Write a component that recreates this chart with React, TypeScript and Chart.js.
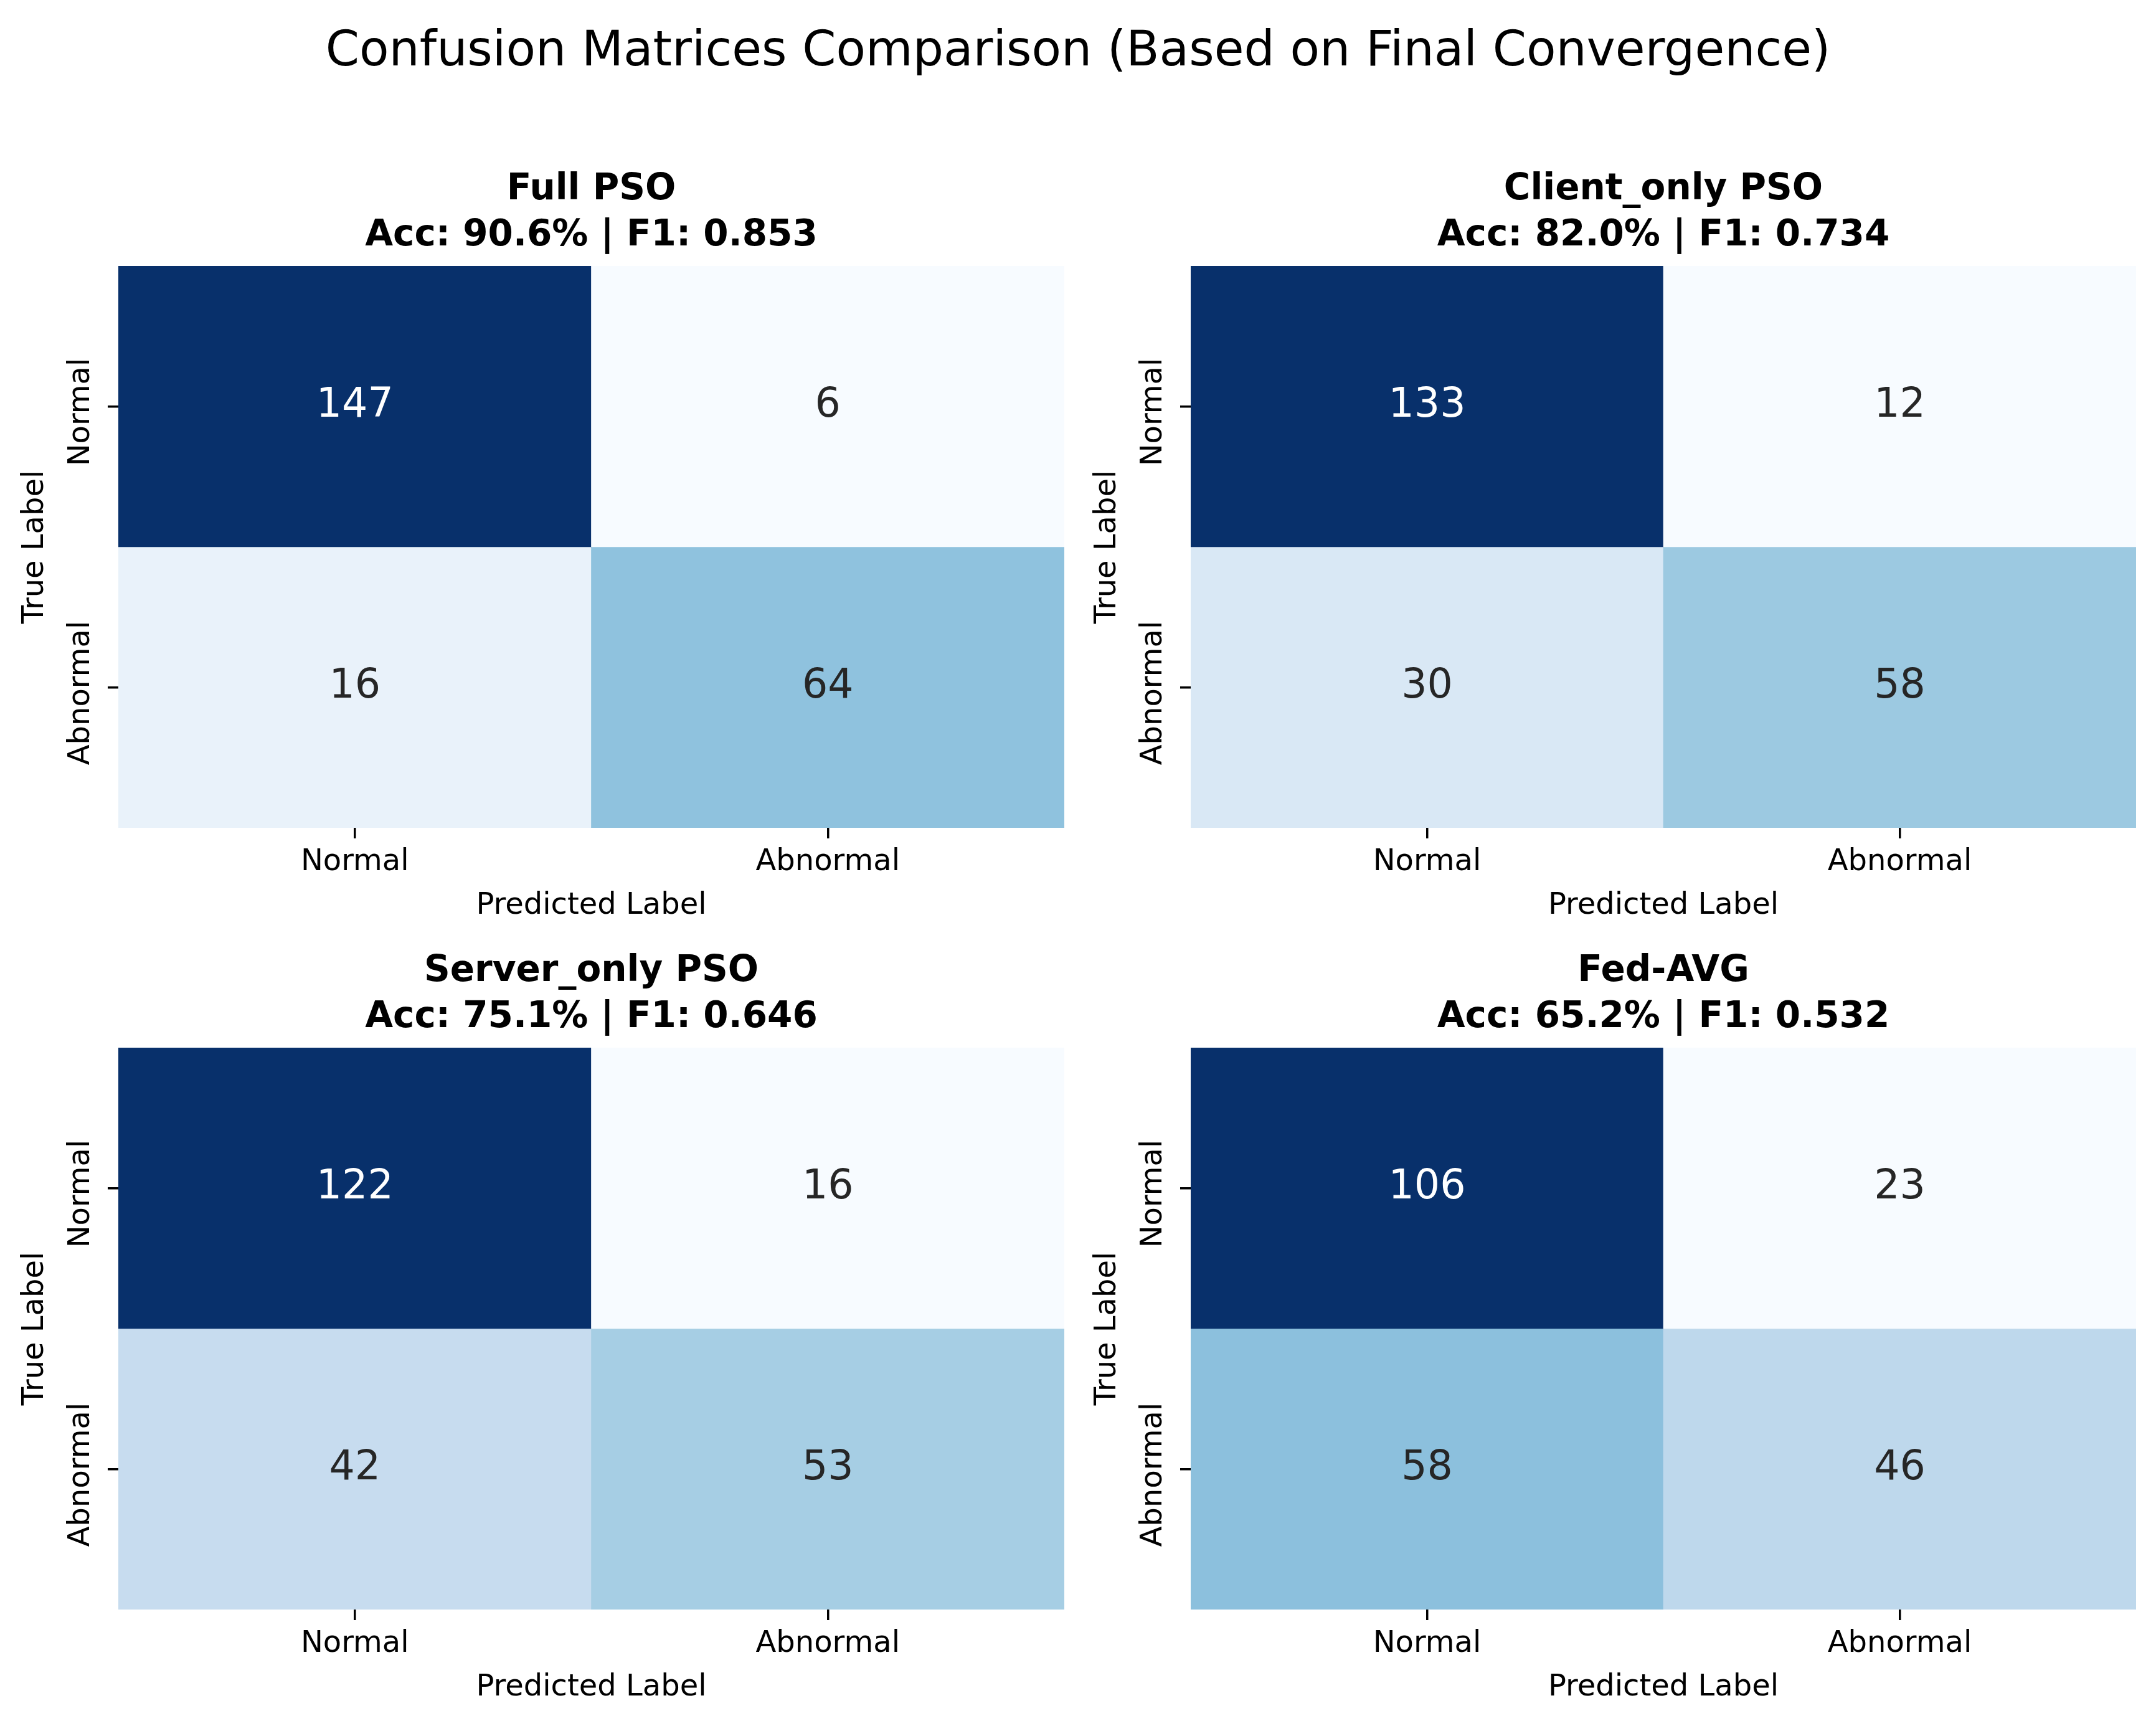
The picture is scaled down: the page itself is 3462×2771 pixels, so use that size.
import React, { useEffect, useRef } from 'react';
import { Chart, registerables } from 'chart.js';

Chart.register(...registerables);

// ---------------- data ----------------
const SUPTITLE = 'Confusion Matrices Comparison (Based on Final Convergence)';
const classLabels = ['Normal', 'Abnormal'];
const modelNames = ['Full PSO', 'Client_only PSO', 'Server_only PSO', 'Fed-AVG'];
const accuracies = [90.6, 82.0, 75.1, 65.2];
const f1Scores = [0.853, 0.734, 0.646, 0.532];
const fullPso = [[147, 6], [16, 64]];
const clientOnlyPso = [[133, 12], [30, 58]];
const serverOnlyPso = [[122, 16], [42, 53]];
const fedAvg = [[106, 23], [58, 46]];
const matrices = [fullPso, clientOnlyPso, serverOnlyPso, fedAvg];

// ---------------- style / layout ----------------
const FONT = 'DejaVu Sans';
const FIG_W = 3462;
const FIG_H = 2771;
const COL_LEFT = [0, 1731];
const COL_W = 1731;
const ROW_TOP = [265, 1520];
const ROW_H = [1255, 1251];
const CHART_LEFT = [190, 181];
const PAD_RIGHT = [22, 32];
const CHART_BOTTOM = 1064;

Chart.defaults.font.family = FONT;

const BLUES = [
  [0.96862745, 0.98431373, 1.0],
  [0.87058824, 0.92156863, 0.96862745],
  [0.77647059, 0.85882353, 0.9372549],
  [0.61960784, 0.79215686, 0.88235294],
  [0.41960784, 0.68235294, 0.83921569],
  [0.25882353, 0.57254902, 0.77647059],
  [0.12941176, 0.44313725, 0.70980392],
  [0.03137255, 0.31764706, 0.61176471],
  [0.03137255, 0.18823529, 0.41960784],
];

function bluesRGB(t: number): number[] {
  const idx = Math.min(255, Math.max(0, Math.floor(t * 256)));
  const x = idx / 255;
  const pos = x * 8;
  const i = Math.min(7, Math.floor(pos));
  const f = pos - i;
  const a = BLUES[i];
  const b = BLUES[i + 1];
  return [0, 1, 2].map((k) => a[k] + (b[k] - a[k]) * f);
}

function toCss(c: number[]): string {
  return `rgb(${Math.round(c[0] * 255)}, ${Math.round(c[1] * 255)}, ${Math.round(c[2] * 255)})`;
}

function luminance(c: number[]): number {
  const lin = c.map((v) => (v <= 0.03928 ? v / 12.92 : Math.pow((v + 0.055) / 1.055, 2.4)));
  return 0.2126 * lin[0] + 0.7152 * lin[1] + 0.0722 * lin[2];
}

function makeCellTextPlugin(matrix: number[][], colors: number[][][]) {
  return {
    id: 'cellText',
    afterDatasetsDraw(chart: any) {
      const ctx = chart.ctx;
      ctx.save();
      ctx.font = `normal 65px "${FONT}"`;
      ctx.textAlign = 'center';
      ctx.textBaseline = 'middle';
      matrix.forEach((row, r) => {
        const meta = chart.getDatasetMeta(r);
        row.forEach((v, c) => {
          const el = meta.data[c];
          if (!el) return;
          const p = el.getProps(['x', 'y', 'base'], true);
          const cy = (p.y + p.base) / 2;
          ctx.fillStyle = luminance(colors[r][c]) > 0.408 ? '#262626' : '#ffffff';
          ctx.fillText(String(v), p.x, cy);
        });
      });
      ctx.restore();
    },
  };
}

function Panel({ index }: { index: number }) {
  const ref = useRef<HTMLCanvasElement | null>(null);
  const col = index % 2;
  const row = Math.floor(index / 2);
  const canvasH = ROW_H[row];

  useEffect(() => {
    if (!ref.current) return;
    const matrix = matrices[index];
    const flat = matrix.flat();
    const vmin = Math.min(...flat);
    const vmax = Math.max(...flat);
    const colors = matrix.map((r) => r.map((v) => bluesRGB((v - vmin) / (vmax - vmin))));
    const tickFont = { family: FONT, size: 48, lineHeight: 1.2 };

    const datasets = matrix.map((r, ri) => ({
      label: classLabels[ri],
      data: r.map(() => [ri, ri + 1]),
      backgroundColor: colors[ri].map(toCss),
      borderWidth: 0,
      barPercentage: 1,
      categoryPercentage: 1,
      grouped: false,
    }));

    const chart = new Chart(ref.current, {
      type: 'bar',
      data: { labels: classLabels, datasets: datasets as any },
      options: {
        responsive: false,
        maintainAspectRatio: false,
        animation: false,
        devicePixelRatio: 1,
        layout: { padding: { left: 0, right: PAD_RIGHT[col], top: 0, bottom: 0 } },
        plugins: {
          legend: { display: false },
          tooltip: { enabled: false },
          title: {
            display: true,
            fullSize: false,
            text: [
              modelNames[index],
              `Acc: ${accuracies[index].toFixed(1)}% | F1: ${f1Scores[index].toFixed(3)}`,
            ],
            font: { family: FONT, size: 58, weight: 'bold', lineHeight: 74 / 58 },
            color: '#000000',
            padding: { top: 3, bottom: 11 },
          },
        },
        scales: {
          x: {
            type: 'category',
            offset: true,
            grid: {
              display: true,
              offset: false,
              drawOnChartArea: false,
              drawTicks: true,
              tickLength: 17,
              tickWidth: 3.5,
              tickColor: '#000000',
              lineWidth: 3.5,
              color: '#000000',
            },
            border: { display: false },
            ticks: {
              font: tickFont,
              color: '#000000',
              padding: 9.7,
              minRotation: 0,
              maxRotation: 0,
              autoSkip: false,
            },
            title: {
              display: true,
              text: 'Predicted Label',
              font: tickFont,
              color: '#000000',
              padding: { top: 0, bottom: canvasH - 1189.5 - 28.8 },
            },
            afterFit: (s: any) => {
              s.height = canvasH - CHART_BOTTOM;
            },
          },
          y: {
            type: 'linear',
            min: 0,
            max: 2,
            reverse: true,
            afterBuildTicks: (s: any) => {
              s.ticks = classLabels.map((_, i) => ({ value: i + 0.5 }));
            },
            grid: {
              display: true,
              drawOnChartArea: false,
              drawTicks: true,
              tickLength: 17,
              tickWidth: 3.5,
              tickColor: '#000000',
              lineWidth: 3.5,
              color: '#000000',
            },
            border: { display: false },
            ticks: {
              callback: (v: any) => classLabels[Math.floor(Number(v))],
              font: tickFont,
              color: '#000000',
              padding: -73,
              labelOffset: 9,
              minRotation: 90,
              maxRotation: 90,
              crossAlign: 'center',
              autoSkip: false,
            },
            title: {
              display: true,
              text: 'True Label',
              font: tickFont,
              color: '#000000',
              padding: { top: CHART_LEFT[col] - 133 - 28.8, bottom: 0 },
            },
            afterFit: (s: any) => {
              s.width = CHART_LEFT[col];
            },
          },
        },
      } as any,
      plugins: [makeCellTextPlugin(matrix, colors)],
    });
    return () => chart.destroy();
  }, [index]);

  return (
    <canvas
      ref={ref}
      width={COL_W}
      height={canvasH}
      style={{
        position: 'absolute',
        left: COL_LEFT[col],
        top: ROW_TOP[row],
        width: COL_W,
        height: canvasH,
      }}
    />
  );
}

export default function App() {
  return (
    <div
      style={{
        position: 'absolute',
        left: 0,
        top: 0,
        width: FIG_W,
        height: FIG_H,
        background: '#ffffff',
        overflow: 'hidden',
      }}
    >
      <div
        style={{
          position: 'absolute',
          left: 0,
          top: 40,
          width: FIG_W,
          textAlign: 'center',
          fontFamily: FONT,
          fontSize: 77.7,
          lineHeight: '77.7px',
          color: '#000000',
          whiteSpace: 'nowrap',
        }}
      >
        {SUPTITLE}
      </div>
      {matrices.map((_, i) => (
        <Panel key={i} index={i} />
      ))}
    </div>
  );
}
